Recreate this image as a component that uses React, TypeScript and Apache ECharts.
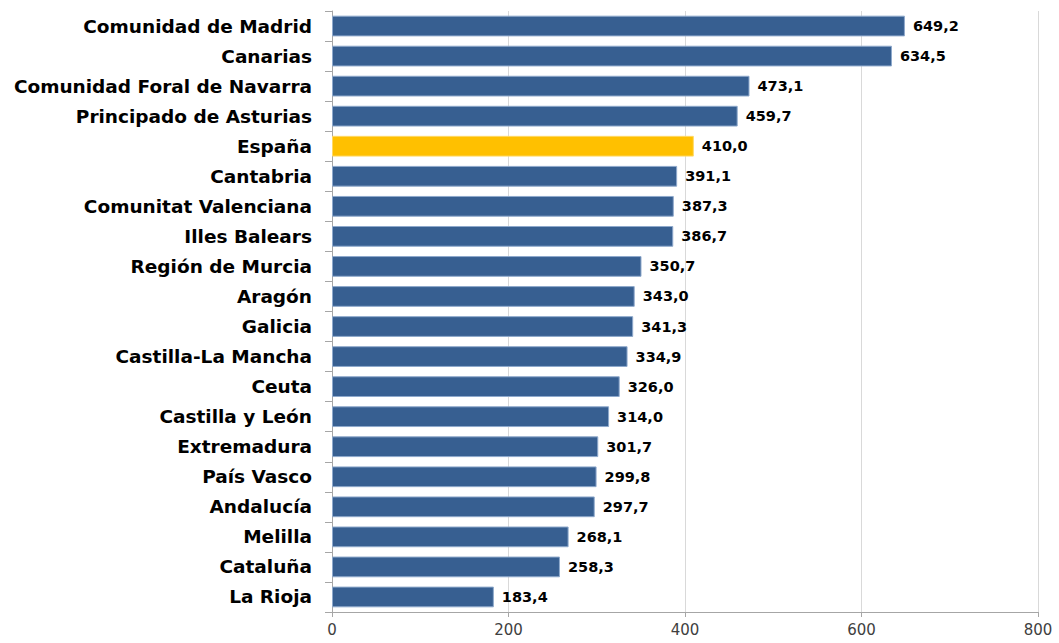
import React, { useEffect, useRef } from "react";
import * as echarts from "echarts";

const categories = [
  "Comunidad de Madrid",
  "Canarias",
  "Comunidad Foral de Navarra",
  "Principado de Asturias",
  "España",
  "Cantabria",
  "Comunitat Valenciana",
  "Illes Balears",
  "Región de Murcia",
  "Aragón",
  "Galicia",
  "Castilla-La Mancha",
  "Ceuta",
  "Castilla y León",
  "Extremadura",
  "País Vasco",
  "Andalucía",
  "Melilla",
  "Cataluña",
  "La Rioja",
];

const values = [
  649.2, 634.5, 473.1, 459.7, 410.0, 391.1, 387.3, 386.7, 350.7, 343.0, 341.3,
  334.9, 326.0, 314.0, 301.7, 299.8, 297.7, 268.1, 258.3, 183.4,
];

const highlight = "España";
const xTicks = { min: 0, max: 800, interval: 200 };

export default function App() {
  const ref = useRef<HTMLDivElement>(null);
  useEffect(() => {
    if (!ref.current) return;
    const chart = echarts.init(ref.current, null, { renderer: "svg" });
    const font = "'DejaVu Sans', sans-serif";
    chart.setOption({
      animation: false,
      grid: { left: 332, right: 21, top: 11, bottom: 31, containLabel: false },
      xAxis: {
        type: "value",
        min: xTicks.min,
        max: xTicks.max,
        interval: xTicks.interval,
        axisLine: { show: true, lineStyle: { color: "#A6A6A6" } },
        axisTick: { show: true, length: 5, lineStyle: { color: "#A6A6A6" } },
        axisLabel: {
          color: "#404040",
          fontFamily: font,
          fontSize: 15,
          margin: 10,
        },
        splitLine: { show: true, lineStyle: { color: "#D9D9D9" } },
      },
      yAxis: {
        type: "category",
        inverse: true,
        data: categories,
        axisLine: { show: true, lineStyle: { color: "#A6A6A6" } },
        axisTick: { show: true, length: 7, inside: false, lineStyle: { color: "#A6A6A6" } },
        axisLabel: {
          color: "#000",
          fontFamily: font,
          fontWeight: "bold",
          fontSize: 18.5,
          margin: 20,
        },
      },
      series: [
        {
          type: "bar",
          barCategoryGap: "31%",
          data: values.map((v, i) => ({
            value: v,
            itemStyle: {
              color: categories[i] === highlight ? "#FFC000" : "#375F91",
              borderColor: categories[i] === highlight ? "#FFD966" : "#8EA9CC",
              borderWidth: 1,
            },
          })),
          label: {
            show: true,
            position: "right",
            distance: 8,
            color: "#000",
            fontFamily: font,
            fontWeight: "bold",
            fontSize: 14.5,
            formatter: (p: any) => p.value.toFixed(1).replace(".", ","),
          },
        },
      ],
    });
    return () => chart.dispose();
  }, []);
  return <div ref={ref} style={{ width: 1059, height: 643, position: "absolute", left: 0, top: 0 }} />;
}
